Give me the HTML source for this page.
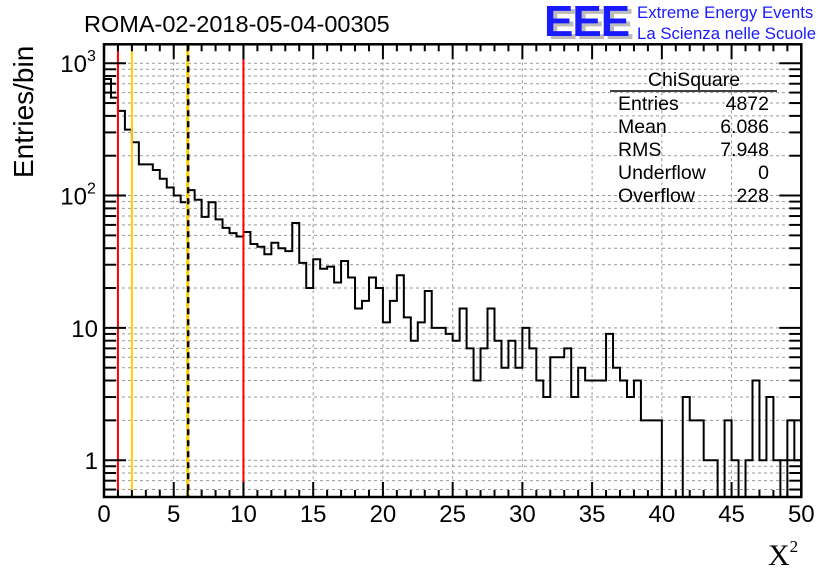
<!DOCTYPE html>
<html><head><meta charset="utf-8"><style>
html,body{margin:0;padding:0;background:#fff;}
svg{display:block;font-family:"Liberation Sans",sans-serif;}
</style></head><body>
<svg id="chart" width="836" height="572" viewBox="0 0 836 572" xmlns="http://www.w3.org/2000/svg">
<rect width="836" height="572" fill="#fff"/>
<text x="84" y="32" font-size="23.5" fill="#000">ROMA-02-2018-05-04-00305</text>
<g>
<text x="548" y="39" font-size="44" font-weight="bold" fill="#bbb" letter-spacing="-1">EEE</text>
<text x="544" y="36" font-size="44" font-weight="bold" fill="#1a1aff" letter-spacing="-1">EEE</text>
<text x="637" y="18" font-size="16.8" fill="#1a1aff">Extreme Energy Events</text>
<text x="637" y="39" font-size="16.8" fill="#1a1aff">La Scienza nelle Scuole</text>
</g>
<text transform="translate(33,178) rotate(-90)" font-size="28" fill="#000">Entries/bin</text>
<text x="768" y="565" font-size="30" font-family="'Liberation Serif',serif" fill="#000">X<tspan font-size="17" dy="-13">2</tspan></text>
<g id="grid"></g><g id="hist"></g><g id="cuts"></g><g id="axes"></g>
<g font-size="19.5" fill="#000">
<text x="694" y="86" text-anchor="middle">ChiSquare</text>
<line x1="610" y1="91" x2="777" y2="91" stroke="#000" stroke-width="1.5"/>
<text x="618" y="110">Entries</text><text x="769" y="110" text-anchor="end">4872</text>
<text x="618" y="133">Mean</text><text x="769" y="133" text-anchor="end">6.086</text>
<text x="618" y="156">RMS</text><text x="769" y="156" text-anchor="end">7.948</text>
<text x="618" y="179">Underflow</text><text x="769" y="179" text-anchor="end">0</text>
<text x="618" y="202">Overflow</text><text x="769" y="202" text-anchor="end">228</text>
</g>
</svg>
<script>
const binEdgesStart = 0, binWidth = 0.5;
const counts = [760,550,436,315,253,172,172,156,134,115,100,89,110,93,69,89,66,57,52,49,
53,43,41,36,44,40,38,62,31,20,33,28,29,22,32,24,14,16,24,20,
11,16,25,12,8,11,19,10,10,9,8,14,7,4,7,14,8,5,8,5,
10,7,4,3,6,6,7,3,5,4,4,4,9,5,4,3,4,2,2,2,
0,0,0,3,2,2,1,1,0,2,1,0,1,4,1,3,1,0,2,1];
const xTicks = [0,5,10,15,20,25,30,35,40,45,50];
const yDecades = [1,10,100,1000];
const yDecadeLabels = ["1","10","10","10"];
const yDecadeExp = ["","","2","3"];
const cutRed = [1,10];
const cutYellow = [2];
const cutDashed = [6];

const L=104,R=801.3,T=44.3,B=497;
const X0=0,X1=50,YMIN=0.527,YMAX=1390;
const sx=v=>L+(v-X0)/(X1-X0)*(R-L);
const sy=v=>B-(Math.log10(v)-Math.log10(YMIN))/(Math.log10(YMAX)-Math.log10(YMIN))*(B-T);
const NS="http://www.w3.org/2000/svg";
function mk(tag,attrs,parent){const e=document.createElementNS(NS,tag);for(const k in attrs)e.setAttribute(k,attrs[k]);parent.appendChild(e);return e;}
const grid=document.getElementById('grid'),hist=document.getElementById('hist'),cuts=document.getElementById('cuts'),axes=document.getElementById('axes');

xTicks.forEach(t=>{if(t>X0&&t<X1){const l=mk('line',{x1:sx(t),x2:sx(t),y1:T,y2:B,stroke:'#999','stroke-dasharray':'3,3','stroke-width':1},grid);

}});
yDecades.forEach(d=>{for(let m=1;m<10;m++){const v=d*m;if(v<YMIN||v>YMAX)continue;const l=mk('line',{x1:L,x2:R,y1:sy(v),y2:sy(v),stroke:'#999','stroke-dasharray':'3,3','stroke-width':1},grid);

}});
[0.6,0.7,0.8,0.9].forEach(v=>{const l=mk('line',{x1:L,x2:R,y1:sy(v),y2:sy(v),stroke:'#999','stroke-dasharray':'3,3','stroke-width':1},grid);

});

let d='';
counts.forEach((c,i)=>{const x0=sx(binEdgesStart+i*binWidth),x1=sx(binEdgesStart+(i+1)*binWidth);const y=c>0?sy(c):B;
if(i===0)d+=`M${x0},${y}`;else d+=`L${x0},${y}`;d+=`L${x1},${y}`;});
const hp=mk('path',{d:d,fill:'none',stroke:'#000','stroke-width':2},hist);



cutRed.forEach(c=>{const l=mk('line',{x1:sx(c),x2:sx(c),y1:T,y2:B,stroke:'#f00','stroke-width':2},cuts);

});
cutYellow.forEach(c=>{const l=mk('line',{x1:sx(c),x2:sx(c),y1:T,y2:B,stroke:'#fc0','stroke-width':2},cuts);

});
cutDashed.forEach(c=>{const l=mk('line',{x1:sx(c),x2:sx(c),y1:T,y2:B,stroke:'#fc0','stroke-width':3},cuts);


const l2=mk('line',{x1:sx(c)+0.5,x2:sx(c)+0.5,y1:T,y2:B,stroke:'#000','stroke-width':2.5,'stroke-dasharray':'6,5'},cuts);

});

const fr=mk('rect',{x:L,y:T,width:R-L,height:B-T,fill:'none',stroke:'#000','stroke-width':2.5},axes);


for(let v=X0;v<=X1;v++){const major=v%5===0;const len=major?15:7;const x=sx(v);
mk('line',{x1:x,x2:x,y1:B,y2:B-len,stroke:'#000','stroke-width':2},axes);
mk('line',{x1:x,x2:x,y1:T,y2:T+len,stroke:'#000','stroke-width':2},axes);}
xTicks.forEach(t=>{const tx=mk('text',{x:sx(t),y:522,'font-size':24,'text-anchor':'middle'},axes);tx.textContent=t;

});
yDecades.forEach((dd,i)=>{for(let m=1;m<10;m++){const v=dd*m;if(v>YMAX)continue;const len=m===1?22:12;const y=sy(v);
mk('line',{x1:L,x2:L+len,y1:y,y2:y,stroke:'#000','stroke-width':2},axes);
mk('line',{x1:R,x2:R-len,y1:y,y2:y,stroke:'#000','stroke-width':2},axes);}
const tx=mk('text',{x:yDecadeExp[i]?87:98,y:sy(dd)+9,'font-size':24,'text-anchor':'end'},axes);tx.textContent=yDecadeLabels[i];


if(yDecadeExp[i]){const s=mk('text',{x:87,y:sy(dd)-2,'font-size':16},axes);s.textContent=yDecadeExp[i];

}});
[0.6,0.7,0.8,0.9].forEach(v=>{const y=sy(v);mk('line',{x1:L,x2:L+12,y1:y,y2:y,stroke:'#000','stroke-width':2},axes);mk('line',{x1:R,x2:R-12,y1:y,y2:y,stroke:'#000','stroke-width':2},axes);});
</script>
</body></html>
